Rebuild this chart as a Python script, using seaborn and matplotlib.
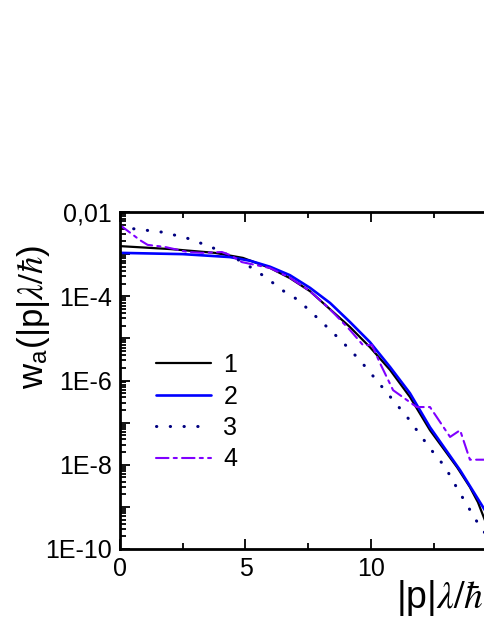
import numpy as np
import pandas as pd
import seaborn as sns
import matplotlib.pyplot as plt
from matplotlib.ticker import LogLocator, FuncFormatter, MultipleLocator, NullFormatter

# values (x = |p|lambda/hbar, y = log10 w_a)
x1 = [0, 2, 3.78, 4.9, 5.98, 6.77, 7.57, 8.37, 9.16, 9.96, 10.76, 11.55, 12.35, 13.43, 13.94, 14.26, 14.54, 15.0]
y1 = [-2.81, -2.88, -2.97, -3.09, -3.33, -3.57, -3.88, -4.31, -4.73, -5.21, -5.75, -6.39, -7.18, -8.06, -8.53, -8.89, -9.32, -10.1]

x2 = [0, 2.5, 4.38, 5.2, 5.98, 6.77, 7.57, 8.37, 9.16, 9.96, 10.76, 11.55, 12.35, 13.55, 14.54, 15.0]
y2 = [-2.97, -3.0, -3.07, -3.16, -3.30, -3.50, -3.80, -4.16, -4.61, -5.09, -5.68, -6.30, -7.11, -8.13, -9.08, -9.5]

x3 = [0, 1.71, 2.67, 3.63, 4.9, 5.78, 6.57, 6.97, 7.37, 8.09, 8.84, 9.56, 10.48, 11.47, 12.35, 12.95, 13.47, 14.26, 14.54, 15.0]
y3 = [-2.36, -2.48, -2.62, -2.83, -3.19, -3.54, -3.90, -4.04, -4.24, -4.64, -5.07, -5.52, -6.18, -6.89, -7.61, -8.05, -8.60, -9.39, -9.62, -10.0]

x4 = [0, 0.8, 1.1, 1.79, 2.7, 3.27, 4.06, 4.38, 4.86, 5.98, 6.77, 7.57, 8.37, 9.16, 9.68, 10.04, 10.36,
      10.88, 11.82, 12.35, 13.15, 13.55, 13.94, 14.5, 15.0]
y4 = [-2.31, -2.67, -2.78, -2.83, -2.95, -2.97, -2.95, -3.02, -3.19, -3.33, -3.56, -3.88, -4.31, -4.80, -5.16, -5.16, -5.59,
      -6.23, -6.63, -6.63, -7.34, -7.18, -7.88, -7.88, -7.88]

labels = ["1", "2", "3", "4"]

sns.set_style("ticks")
plt.rcParams['font.family'] = ['Liberation Sans', 'DejaVu Sans']
plt.rcParams['mathtext.fontset'] = 'stix'
plt.rcParams['text.color'] = 'black'
plt.rcParams['axes.labelcolor'] = 'black'
plt.rcParams['xtick.color'] = 'black'
plt.rcParams['ytick.color'] = 'black'

fig = plt.figure(figsize=(4.85, 6.28), dpi=100)
ax = fig.add_axes([120 / 485, 79 / 628, 376.5 / 485, 337 / 628])

curves = [
    (x1, y1, "black", "-", 1.6),
    (x2, y2, "#0000ff", "-", 1.9),
    (x3, y3, "#000080", (0, (0.1, 4.4)), 2.2),
    (x4, y4, "#8000ff", (0, (6, 2.5, 1.5, 2.5)), 1.5),
]
for (xs, ys, col, ls, lw), lab in zip(curves, labels):
    df = pd.DataFrame({"x": xs, "w": 10.0 ** np.array(ys)})
    sns.lineplot(data=df, x="x", y="w", ax=ax, color=col, linestyle=ls,
                 linewidth=lw, label=lab, sort=False, estimator=None,
                 dash_capstyle="round")

ax.set_yscale("log")
ax.set_xlim(0, 15)
ax.set_ylim(1e-10, 1e-2)

ax.xaxis.set_major_locator(MultipleLocator(5))
ax.xaxis.set_minor_locator(MultipleLocator(2.5))
ax.yaxis.set_major_locator(LogLocator(base=10, numticks=20))
ax.yaxis.set_minor_locator(LogLocator(base=10, subs=np.arange(2, 10), numticks=20))
ax.yaxis.set_minor_formatter(NullFormatter())


def ylab(v, pos):
    e = int(round(np.log10(v)))
    if e % 2:
        return ""
    if e == -2:
        return "0,01"
    return f"1E{e}"


ax.yaxis.set_major_formatter(FuncFormatter(ylab))

ax.tick_params(which="both", direction="in", top=True, right=True, labelsize=18, width=1.3, pad=6)
ax.tick_params(which="major", length=7)
ax.tick_params(which="minor", length=4)
for s in ax.spines.values():
    s.set_linewidth(2)
    s.set_color("black")

ax.set_xlabel(r"|p|$\lambda/\hbar$", fontsize=27)
ax.xaxis.label.set_ha("left")
ax.xaxis.set_label_coords((396 - 120) / 376.5, -0.085)
ax.set_ylabel(r"w$_\mathregular{a}$(|p|$\lambda/\hbar$)", fontsize=25)
ax.yaxis.set_label_coords((52 - 120) / 376.5, (549 - 317) / 337)

ax.legend(loc="upper left", bbox_to_anchor=((156 - 120) / 376.5, (549 - 353) / 337),
          frameon=False, fontsize=18, handlelength=2.2, handletextpad=0.5,
          borderpad=0, borderaxespad=0, labelspacing=0.3)

fig.savefig("out.png", dpi=100)
